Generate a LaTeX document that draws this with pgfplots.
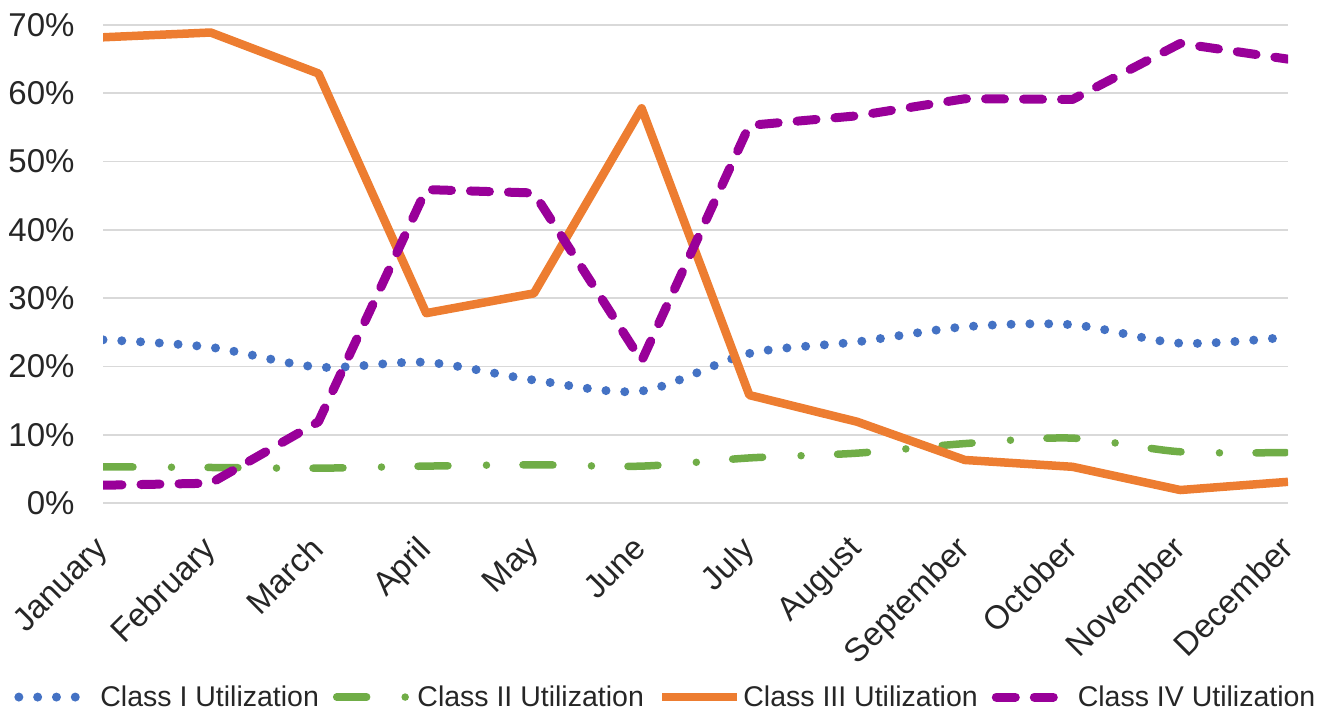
\documentclass[border=0pt]{standalone}
\usepackage{pgfplots}
\pgfplotsset{compat=1.18}
\usepackage{fontspec}
\setmainfont{Liberation Sans}
\definecolor{cI}{HTML}{4472C4}
\definecolor{cII}{HTML}{70AD47}
\definecolor{cIII}{HTML}{ED7D31}
\definecolor{cIV}{HTML}{990099}
\definecolor{gridgray}{HTML}{D9D9D9}
\begin{document}
\begin{tikzpicture}
\path[use as bounding box] (0,0) rectangle (1322bp,713bp);
\begin{axis}[
  at={(103bp,210bp)}, anchor=south west,
  scale only axis, width=1185bp, height=478bp,
  xmin=0, xmax=11, ymin=0, ymax=70,
  xtick={0,1,...,11},
  xticklabels={January,February,March,April,May,June,July,August,September,October,November,December},
  ytick={0,10,...,70},
  yticklabels={0\%,10\%,20\%,30\%,40\%,50\%,60\%,70\%},
  axis line style={draw=none},
  major tick length=0pt,
  ymajorgrids, xmajorgrids=false,
  grid style={color=gridgray, line width=1.8bp},
  tick label style={font=\fontsize{33bp}{38bp}\selectfont, text=black!85},
  yticklabel style={xshift=-25bp},
  xticklabel style={xshift=-10bp, yshift=-31bp, rotate=45, anchor=north east, inner sep=0pt},
  legend columns=4,
  legend cell align=left,
  legend image code/.code={\draw[#1] (0bp,0bp) -- (75bp,0bp);},
  legend style={at={(0.475,-0.406)}, anchor=center, draw=none, fill=none,
    font=\fontsize{28.5bp}{34bp}\selectfont, text=black!85,
    inner sep=0pt, nodes={inner sep=2bp},
    /tikz/every even column/.append style={column sep=12bp}},
]
\addplot[color=cI, line width=9bp, line cap=round, dash pattern=on 0bp off 18.8bp, smooth, tension=0.5] coordinates {
 (0,23.9) (1,22.8) (2,19.9) (3,20.6) (4,18.0) (5,16.4) (6,21.9) (7,23.6) (8,25.8) (9,26.1) (10,23.4) (11,24.3)};
\addlegendentry{Class I Utilization}
\addplot[color=cII, line width=7.5bp, line cap=round, dash pattern=on 30bp off 38.5bp on 0bp off 36.5bp, smooth, tension=0.5] coordinates {
 (0,5.3) (1,5.2) (2,5.1) (3,5.4) (4,5.6) (5,5.4) (6,6.6) (7,7.3) (8,8.7) (9,9.5) (10,7.5) (11,7.4)};
\addlegendentry{Class II Utilization}
\addplot[color=cIII, line width=8.5bp, line join=round] coordinates {
 (0,68.2) (1,68.9) (2,62.9) (3,27.8) (4,30.7) (5,57.8) (6,15.8) (7,11.9) (8,6.3) (9,5.3) (10,1.9) (11,3.1)};
\addlegendentry{Class III Utilization}
\addplot[color=cIV, line width=9bp, line cap=round, line join=round, dash pattern=on 19bp off 19bp] coordinates {
 (0,2.6) (1,2.9) (2,11.9) (3,45.9) (4,45.4) (5,20.8) (6,55.3) (7,56.7) (8,59.2) (9,59.1) (10,67.3) (11,65.0)};
\addlegendentry{Class IV Utilization}
\end{axis}
\end{tikzpicture}
\end{document}
